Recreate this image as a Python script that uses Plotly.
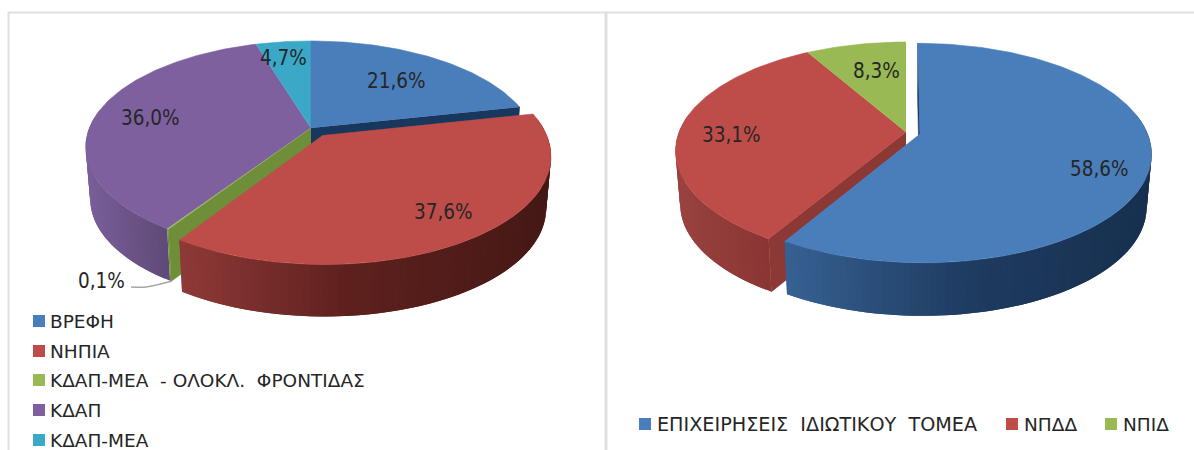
import plotly.graph_objects as go
import numpy as np

# ---- data ----
left_categories = ["ΒΡΕΦΗ", "ΝΗΠΙΑ", "ΚΔΑΠ-ΜΕΑ\u00a0\u00a0- ΟΛΟΚΛ.\u00a0\u00a0ΦΡΟΝΤΙΔΑΣ", "ΚΔΑΠ", "ΚΔΑΠ-ΜΕΑ"]
left_values = [21.6, 37.6, 0.1, 36.0, 4.7]
left_labels = ["21,6%", "37,6%", "0,1%", "36,0%", "4,7%"]
right_categories = ["ΕΠΙΧΕΙΡΗΣΕΙΣ\u00a0\u00a0ΙΔΙΩΤΙΚΟΥ\u00a0\u00a0ΤΟΜΕΑ", "ΝΠΔΔ", "ΝΠΙΔ"]
right_values = [58.6, 33.1, 8.3]
right_labels = ["58,6%", "33,1%", "8,3%"]

# ---- styles and layout ----
BLUE, RED, GREEN, PURPLE, TEAL = "#4a7ebb", "#be4d4a", "#98b954", "#7f609f", "#3aa8c6"
LABEL_FONT = "DejaVu Sans Condensed, DejaVu Sans, sans-serif"
LEGEND_FONT = "DejaVu Sans, sans-serif"
TXT = "#262626"
LP = dict(x0=311, y0=128, R=221.6, H=102.7, k=0.18, d=52)
RP = dict(x0=906, y0=132, R=226.9, H=105.75, k=0.175, d=53)
BOTTOM_SCALE = 0.98

fig = go.Figure()


def project(p, u, v):
    s = 1 / (1 - p["k"] * v)
    return p["x0"] + p["R"] * u * s, p["y0"] + p["H"] * v * s


def lower(p, x, y):
    return p["x0"] + (x - p["x0"]) * BOTTOM_SCALE, y + p["d"]


def poly(xs, ys, color, width=0.6):
    fig.add_trace(go.Scatter(x=list(xs), y=list(ys), mode="lines", fill="toself", fillcolor=color,
                             line=dict(color=color, width=width), hoverinfo="skip", showlegend=False))


def offsets(a0, a1, pull):
    mid = np.radians((a0 + a1) / 2)
    return pull * np.sin(mid), pull * -np.cos(mid)


def top_face(p, a0, a1, pull, color):
    du, dv = offsets(a0, a1, pull)
    th = np.radians(np.linspace(a0, a1, max(int(a1 - a0), 2) + 1))
    pts = [project(p, du, dv)] + [project(p, np.sin(t) + du, -np.cos(t) + dv) for t in th]
    poly([q[0] for q in pts], [q[1] for q in pts], color)


def cut_face(p, angle, pull_off, color):
    du, dv = pull_off
    t = np.radians(angle)
    a = project(p, du, dv)
    b = project(p, np.sin(t) + du, -np.cos(t) + dv)
    c = lower(p, *b)
    e = lower(p, *a)
    poly([a[0], b[0], c[0], e[0]], [a[1], b[1], c[1], e[1]], color)


def mix(stops, f):
    f = min(max(f, 0), 1)
    fs = [s[0] for s in stops]
    rgb = [np.interp(f, fs, [int(s[1][i:i + 2], 16) for s in stops]) for i in (1, 3, 5)]
    return "rgb(%d,%d,%d)" % tuple(rgb)


def wall(p, a0, a1, pull_off, stops):
    """Outer side of a slice, as thin strips shaded from left to right."""
    du, dv = pull_off
    a0, a1 = max(a0, 80), min(a1, 280)
    if a1 <= a0:
        return
    angles = np.linspace(a0, a1, int((a1 - a0) / 1.5) + 2)
    rim = [project(p, np.sin(np.radians(t)) + du, -np.cos(np.radians(t)) + dv) for t in angles]
    lo, hi = min(q[0] for q in rim), max(q[0] for q in rim)
    # each strip reaches over its neighbour so no seams show between them
    for i in range(len(rim) - 1):
        q0, q1 = rim[i], rim[min(i + 2, len(rim) - 1)]
        b0, b1 = lower(p, *q0), lower(p, *q1)
        f = ((rim[i][0] + rim[i + 1][0]) / 2 - lo) / (hi - lo)
        poly([q0[0], q1[0], b1[0], b0[0]], [q0[1], q1[1], b1[1], b0[1]], mix(stops, f), width=0)


def spans(values):
    edges = np.concatenate([[0], np.cumsum(values)]) * 3.6 / (sum(values) / 100)
    return list(zip(edges[:-1], edges[1:]))


def legend_item(x, y, color, text, name, gap=9.5, size=18.5):
    fig.add_trace(go.Scatter(x=[x], y=[y], mode="markers", name=name, showlegend=False, hoverinfo="skip",
                             marker=dict(symbol="square", size=12, color=color, line=dict(width=0))))
    fig.add_annotation(x=x + gap, y=y, text=text, showarrow=False, xanchor="left", yanchor="middle",
                       font=dict(family=LEGEND_FONT, size=size, color=TXT))


def label(x, y, text):
    fig.add_annotation(x=x, y=y, text=text, showarrow=False, xanchor="center", yanchor="middle",
                       font=dict(family=LABEL_FONT, size=20.5, color=TXT))


# ---- left pie ----
ls = spans(left_values)
red_off = offsets(*ls[1], 0.088)
wall(LP, *ls[3], (0, 0), [(0, "#7a5f9a"), (1, "#5f4a78")])
wall(LP, *ls[2], (0, 0), [(0, "#6f8e3a"), (1, "#6f8e3a")])
cut_face(LP, ls[2][0], (0, 0), "#6f8e3a")
cut_face(LP, ls[0][1], (0, 0), "#17375e")
top_face(LP, *ls[3], 0, PURPLE)
top_face(LP, *ls[4], 0, TEAL)
top_face(LP, *ls[0], 0, BLUE)
top_face(LP, *ls[2], 0, GREEN)
wall(LP, *ls[1], red_off, [(0, "#8f3a38"), (0.45, "#5f211e"), (1, "#451916")])
top_face(LP, *ls[1], 0.088, RED)

# ---- right pie ----
rs = spans(right_values)
blue_off = offsets(*rs[0], 0.0635)
wall(RP, *rs[1], (0, 0), [(0, "#9a4340"), (1, "#8a3634")])
cut_face(RP, rs[1][0], (0, 0), "#8c3835")
top_face(RP, *rs[1], 0, RED)
top_face(RP, *rs[2], 0, GREEN)
wall(RP, *rs[0], blue_off, [(0, "#376193"), (0.5, "#1f3c61"), (1, "#17304f")])
cut_face(RP, 0, blue_off, "#17375e")
top_face(RP, *rs[0], 0.0635, BLUE)

# ---- leader line for the smallest slice ----
fig.add_trace(go.Scatter(x=[131, 146, 172], y=[287, 287, 281], mode="lines", hoverinfo="skip", showlegend=False,
                         line=dict(color="#a6a6a6", width=1.4, shape="spline")))

# ---- value labels ----
for (x, y), t in zip([(396, 81), (443, 212), (101, 281), (150, 118), (283, 58)], left_labels):
    label(x, y, t)
for (x, y), t in zip([(1099.5, 169), (731, 135), (876, 71)], right_labels):
    label(x, y, t)

# ---- legends ----
for y, c, t in zip([321, 351, 380, 410, 440], [BLUE, RED, GREEN, PURPLE, TEAL], left_categories):
    legend_item(39, y, c, t, t, gap=8.5)
for x, c, t, sz in zip([645, 1012, 1111], [BLUE, RED, GREEN], right_categories, [19.2, 18.5, 18.5]):
    legend_item(x, 424, c, t, t, size=sz)

# ---- panel frames ----
border = "#e0e0e0"
shapes = [
    dict(type="line", x0=8.5, x1=8.5, y0=12, y1=450, line=dict(color=border, width=2)),
    dict(type="line", x0=8, x1=606, y0=12.5, y1=12.5, line=dict(color=border, width=2)),
    dict(type="line", x0=606, x1=606, y0=12, y1=450, line=dict(color=border, width=3)),
    dict(type="line", x0=606, x1=1194, y0=12.5, y1=12.5, line=dict(color=border, width=2)),
]

fig.update_layout(
    width=1194, height=450, margin=dict(l=0, r=0, t=0, b=0),
    paper_bgcolor="white", plot_bgcolor="white", showlegend=False, shapes=shapes,
    xaxis=dict(range=[0, 1194], visible=False, fixedrange=True),
    yaxis=dict(range=[450, 0], visible=False, fixedrange=True),
)
fig.write_html("out.html", config={"displayModeBar": False},
               post_script="document.body.style.margin='0';document.body.style.overflow='hidden';")
